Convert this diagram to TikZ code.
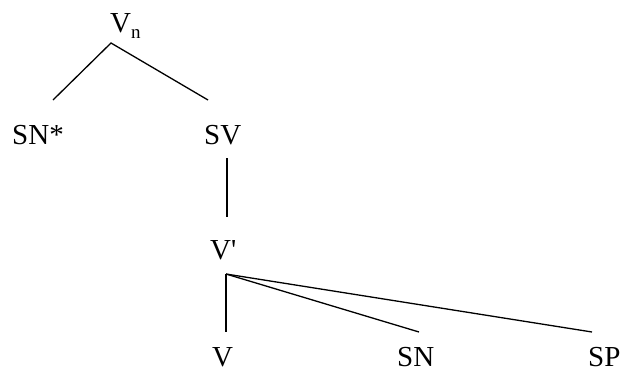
\documentclass[tikz,border=0pt]{standalone}
\usepackage{fontspec}
\setmainfont{Liberation Serif}
\begin{document}
\begin{tikzpicture}[x=1pt,y=-1pt,
  lab/.style={anchor=base west,inner sep=0pt,font=\fontsize{29}{30}\selectfont},
  edge/.style={line width=1.3pt}]
\useasboundingbox (0,0) rectangle (624,372);
\node[lab] (vn) at (110,32) {V\raisebox{-6pt}{\fontsize{19}{20}\selectfont n}};
\node[lab] (snstar) at (12,144) {SN*};
\node[lab] (sv) at (204,144) {SV};
\node[lab] (vbar) at (210,259) {V\textquotesingle};
\node[lab] (v) at (212,366) {V};
\node[lab] (sn) at (397,366) {SN};
\node[lab] (sp) at (588,366) {SP};
\coordinate (vnA) at (111,43);
\coordinate (snstarT) at (53,100);
\coordinate (svT) at (208,100);
\coordinate (svB) at (227,158);
\coordinate (vbarT) at (227,217);
\coordinate (vbarA) at (226,274);
\coordinate (vT) at (226,332);
\coordinate (snT) at (419,332);
\coordinate (spT) at (592,332);
\draw[edge] (snstarT) -- (vnA) -- (svT);
\draw[edge] (svB) -- (vbarT);
\draw[edge] (vbarA) -- (vT);
\draw[edge] (vbarA) -- (snT);
\draw[edge] (vbarA) -- (spT);
\end{tikzpicture}
\end{document}
